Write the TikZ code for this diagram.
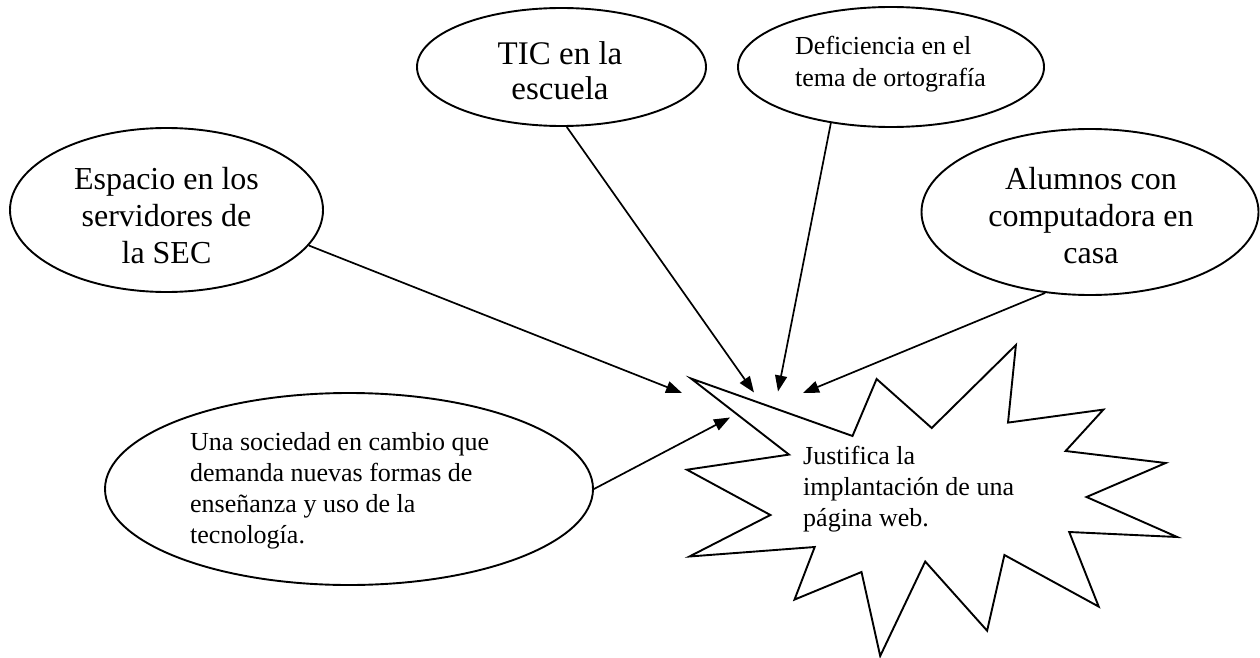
\documentclass[tikz,border=0pt]{standalone}
\usepackage{fontspec}
\setmainfont{Liberation Serif}
\usetikzlibrary{shapes.geometric,arrows.meta}
\begin{document}
\begin{tikzpicture}[x=1pt,y=-1pt,
  bub/.style={draw, ellipse, line width=1.9pt, inner sep=0pt},
  lblc/.style={anchor=base, inner sep=0pt, align=center},
  lbll/.style={anchor=base west, inner sep=0pt, align=left},
  big/.style={font=\fontsize{32}{36.7}\selectfont},
  mid/.style={font=\fontsize{26}{30.7}\selectfont},
  arr/.style={line width=1.7pt, -{Triangle[length=16pt,width=12pt]}},
  star/.style={draw, line width=1.9pt, line join=miter}]
\useasboundingbox (0,0) rectangle (1260,658);

% ellipses
\node[bub, minimum width=313pt, minimum height=164pt] (esp) at (166.5,210) {};
\node[bub, minimum width=289pt, minimum height=118pt] (tic) at (561.5,67) {};
\node[bub, minimum width=306pt, minimum height=120pt] (def) at (891,67) {};
\node[bub, minimum width=337pt, minimum height=166pt] (alu) at (1090,212) {};
\node[bub, minimum width=488pt, minimum height=192pt] (una) at (349,489) {};

% texts (anchored at the baseline of their last line)
\node[lblc, big] (espt) at (166.5,263) {Espacio en los\\servidores de\\la SEC};
\node[lblc, font=\fontsize{33}{35}\selectfont] (tict) at (560,100) {TIC en la\\escuela};
\node[lbll, font=\fontsize{26}{32}\selectfont] (deft) at (795,87) {Deficiencia en el\\tema de ortografía};
\node[lblc, big] (alut) at (1091,263) {Alumnos con\\computadora en\\casa};
\node[lbll, mid] (unat) at (190,543) {Una sociedad en cambio que\\demanda nuevas formas de\\enseñanza y uso de la\\tecnología.};

% starburst
\draw[star] (691,378.5) -- (852.5,436) -- (876.6,379) -- (931.7,428) -- (1015.9,345)
  -- (1008,422.6) -- (1103.4,409.6) -- (1065.6,451) -- (1165.7,463) -- (1086.5,497)
  -- (1177.2,537) -- (1069.2,532) -- (1098.7,606.6) -- (1004.4,555) -- (987.1,630.7)
  -- (925.2,561.5) -- (880.2,656) -- (861.5,572) -- (794.5,599.6) -- (814.7,547)
  -- (689.4,556.5) -- (770.4,515) -- (686.9,469.7) -- (789,454.6) -- cycle;
\node[lbll, mid] (just) at (803,526) {Justifica la\\implantación de una\\página web.};

% arrow tips
\coordinate (t1) at (682,393);
\coordinate (t2) at (754,392.5);
\coordinate (t3) at (778,391.5);
\coordinate (t4) at (803,393);
\coordinate (t5) at (730,417.5);

\draw[arr] (esp.-14) -- (t1);
\draw[arr] (tic.-85) -- (t2);
\draw[arr] (def.-137) -- (t3);
\draw[arr] (alu.-119.5) -- (t4);
\draw[arr] (una.east) -- (t5);
\end{tikzpicture}
\end{document}
